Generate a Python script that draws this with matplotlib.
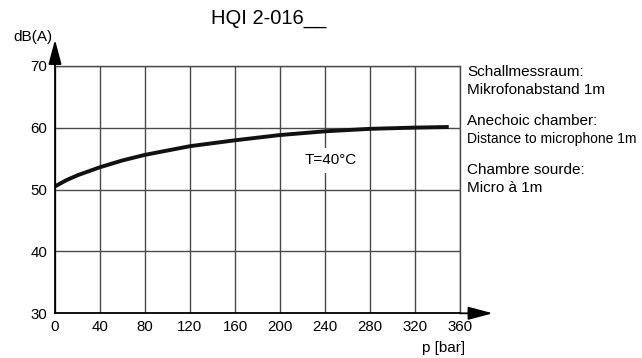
import matplotlib.pyplot as plt

plt.rcParams['font.family'] = ['Liberation Sans', 'DejaVu Sans']

# curve
pressure = [0, 10, 20, 40, 60, 80, 120, 160, 200, 240, 280, 320, 350]
noise = [50.5, 51.5, 52.3, 53.6, 54.7, 55.6, 57.0, 57.95, 58.8, 59.4, 59.8, 60.0, 60.1]

x_ticks = [0, 40, 80, 120, 160, 200, 240, 280, 320, 360]
y_ticks = [30, 40, 50, 60, 70]

notes = [
    ("Schallmessraum:", 71.7, 11),
    ("Mikrofonabstand 1m", 90, 11),
    ("Anechoic chamber:", 120.7, 11),
    ("Distance to microphone 1m", 139.3, 10),
    ("Chambre sourde:", 170, 11),
    ("Micro à 1m", 187.7, 11),
]


def main():
    W, H = 642, 358
    fig = plt.figure(figsize=(W / 100, H / 100), dpi=100)
    ax = fig.add_axes([55 / W, 1 - 313.3 / H, 405 / W, 247.6 / H])

    ax.set_xlim(0, 360)
    ax.set_ylim(30, 70)
    ax.set_xticks(x_ticks)
    ax.set_yticks(y_ticks)
    ax.grid(True, color='#4a4a4a', linewidth=1.0)
    ax.set_axisbelow(True)

    for side in ['top', 'right']:
        ax.spines[side].set_color('#4a4a4a')
        ax.spines[side].set_linewidth(1.0)
    for side in ['left', 'bottom']:
        ax.spines[side].set_color('black')
        ax.spines[side].set_linewidth(1.3)

    ax.tick_params(length=0, labelsize=10.8)
    ax.tick_params(axis='x', pad=5)
    ax.tick_params(axis='y', pad=5.5)

    ax.plot(pressure, noise, color='#111111', linewidth=2.8, solid_capstyle='butt')

    ax.text(245, 54.7, "T=40°C", fontsize=11, ha='center', va='center',
            bbox=dict(facecolor='white', edgecolor='none', pad=4))

    # axis arrows
    head = '-|>,head_length=1.5,head_width=0.4'
    ax.annotate('', xy=(0, 1.105), xytext=(0, 1.0), xycoords='axes fraction',
                arrowprops=dict(arrowstyle=head, color='black', lw=1.3,
                                shrinkA=0, shrinkB=0))
    ax.annotate('', xy=(1.081, 0), xytext=(1.0, 0), xycoords='axes fraction',
                arrowprops=dict(arrowstyle=head, color='black', lw=1.3,
                                shrinkA=0, shrinkB=0))

    fig.text(33 / W, 1 - 36.7 / H, "dB(A)", fontsize=11, ha='center', va='center')
    fig.text(444 / W, 1 - 348 / H, "p [bar]", fontsize=11, ha='center', va='center')
    fig.text(268.5 / W, 1 - 19 / H, "HQI 2-016__", fontsize=14.5, ha='center', va='center')

    for txt, ypix, size in notes:
        fig.text(467 / W, 1 - ypix / H, txt, fontsize=size, ha='left', va='center')

    fig.savefig("out.png", dpi=100)
    plt.close(fig)


if __name__ == "__main__":
    main()
